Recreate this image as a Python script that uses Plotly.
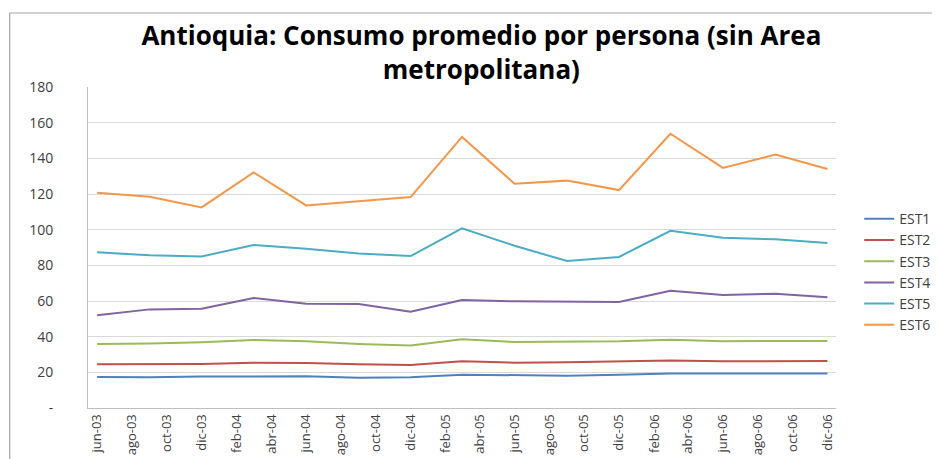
import plotly.graph_objects as go

# quarterly observations (date axis, 2-month ticks like the Excel original)
fechas = ["2003-06-01", "2003-09-01", "2003-12-01", "2004-03-01", "2004-06-01",
          "2004-09-01", "2004-12-01", "2005-03-01", "2005-06-01", "2005-09-01",
          "2005-12-01", "2006-03-01", "2006-06-01", "2006-09-01", "2006-12-01"]

est1 = [17.4, 17.2, 17.6, 17.9, 17.8, 17.0, 17.2, 18.7, 18.3, 18.1, 18.7, 19.4, 19.3, 19.3, 19.3]
est2 = [24.5, 24.5, 24.7, 25.4, 25.2, 24.5, 24.1, 26.2, 25.4, 25.6, 26.0, 26.7, 26.2, 26.2, 26.4]
est3 = [35.9, 36.1, 36.8, 38.1, 37.4, 35.9, 35.0, 38.5, 37.0, 37.0, 37.4, 38.3, 37.4, 37.6, 37.6]
est4 = [52.0, 55.3, 55.7, 61.7, 58.5, 58.3, 54.0, 60.6, 59.8, 59.4, 59.4, 65.8, 63.4, 64.1, 62.1]
est5 = [87.3, 85.6, 85.0, 91.4, 89.3, 86.7, 85.2, 100.7, 91.0, 82.4, 84.7, 99.4, 95.5, 94.6, 92.5]
est6 = [120.7, 118.5, 112.5, 132.1, 113.6, 116.1, 118.3, 152.0, 125.8, 127.5, 122.2, 153.8, 134.6, 142.1, 134.0]

series = ["EST1", "EST2", "EST3", "EST4", "EST5", "EST6"]
colores = ["#4F81BD", "#C0504D", "#9BBB59", "#8064A2", "#4BACC6", "#F79646"]

tick_fechas = ["2003-06-01", "2003-08-01", "2003-10-01", "2003-12-01", "2004-02-01",
               "2004-04-01", "2004-06-01", "2004-08-01", "2004-10-01", "2004-12-01",
               "2005-02-01", "2005-04-01", "2005-06-01", "2005-08-01", "2005-10-01",
               "2005-12-01", "2006-02-01", "2006-04-01", "2006-06-01", "2006-08-01",
               "2006-10-01", "2006-12-01"]
tick_textos = ["jun-03", "ago-03", "oct-03", "dic-03", "feb-04", "abr-04", "jun-04",
               "ago-04", "oct-04", "dic-04", "feb-05", "abr-05", "jun-05", "ago-05",
               "oct-05", "dic-05", "feb-06", "abr-06", "jun-06", "ago-06", "oct-06",
               "dic-06"]

y_ticks = [0, 20, 40, 60, 80, 100, 120, 140, 160, 180]
y_textos = ["-", "20", "40", "60", "80", "100", "120", "140", "160", "180"]

fig = go.Figure()
for nombre, valores, color in zip(series, [est1, est2, est3, est4, est5, est6], colores):
    fig.add_trace(go.Scatter(x=fechas, y=valores, name=nombre, mode="lines",
                             line=dict(color=color, width=2)))

# outer chart frame (runs off the picture on the right and bottom)
fig.add_shape(type="rect", xref="paper", yref="paper",
              x0=-0.1047, x1=1.5, y0=-1.0, y1=1.2305,
              line=dict(color="#a6a6a6", width=1.2), fillcolor="rgba(0,0,0,0)", layer="below")

# page body adds ~8px offset, so margins are shifted to compensate
fig.update_layout(
    width=940, height=459,
    margin=dict(l=80, r=96, t=79, b=59),
    paper_bgcolor="white", plot_bgcolor="white",
    font=dict(family="Open Sans", color="#404040"),
    title=dict(text="<b>Antioquia: Consumo promedio por persona (sin Area<br>metropolitana)</b>",
               x=0.5036, xref="container", xanchor="center",
               y=0.92, yref="container", yanchor="middle",
               font=dict(family="Open Sans", size=26, color="black")),
    legend=dict(x=1.031, y=0.638, xanchor="left", yanchor="top",
                font=dict(size=14, color="#404040"), bgcolor="rgba(0,0,0,0)",
                itemwidth=30, tracegroupgap=0),
    showlegend=True,
)
fig.update_xaxes(type="date", range=["2003-05-16", "2006-12-16"], automargin=False,
                 tickmode="array", tickvals=tick_fechas, ticktext=tick_textos,
                 tickangle=-90, tickfont=dict(family="Liberation Sans Narrow, Open Sans", size=13, color="#404040"),
                 showgrid=False, showline=True, linecolor="#bfbfbf", linewidth=1,
                 ticks="", zeroline=False)
fig.update_yaxes(range=[0, 180], automargin=False, tickmode="array", tickvals=y_ticks, ticktext=y_textos,
                 tickfont=dict(family="Open Sans", size=14, color="#404040"),
                 showgrid=True, gridcolor="#d9d9d9", gridwidth=1,
                 showline=True, linecolor="#bfbfbf", linewidth=1,
                 ticks="", ticklabelstandoff=31, zeroline=False)

fig.write_html("out.html")
